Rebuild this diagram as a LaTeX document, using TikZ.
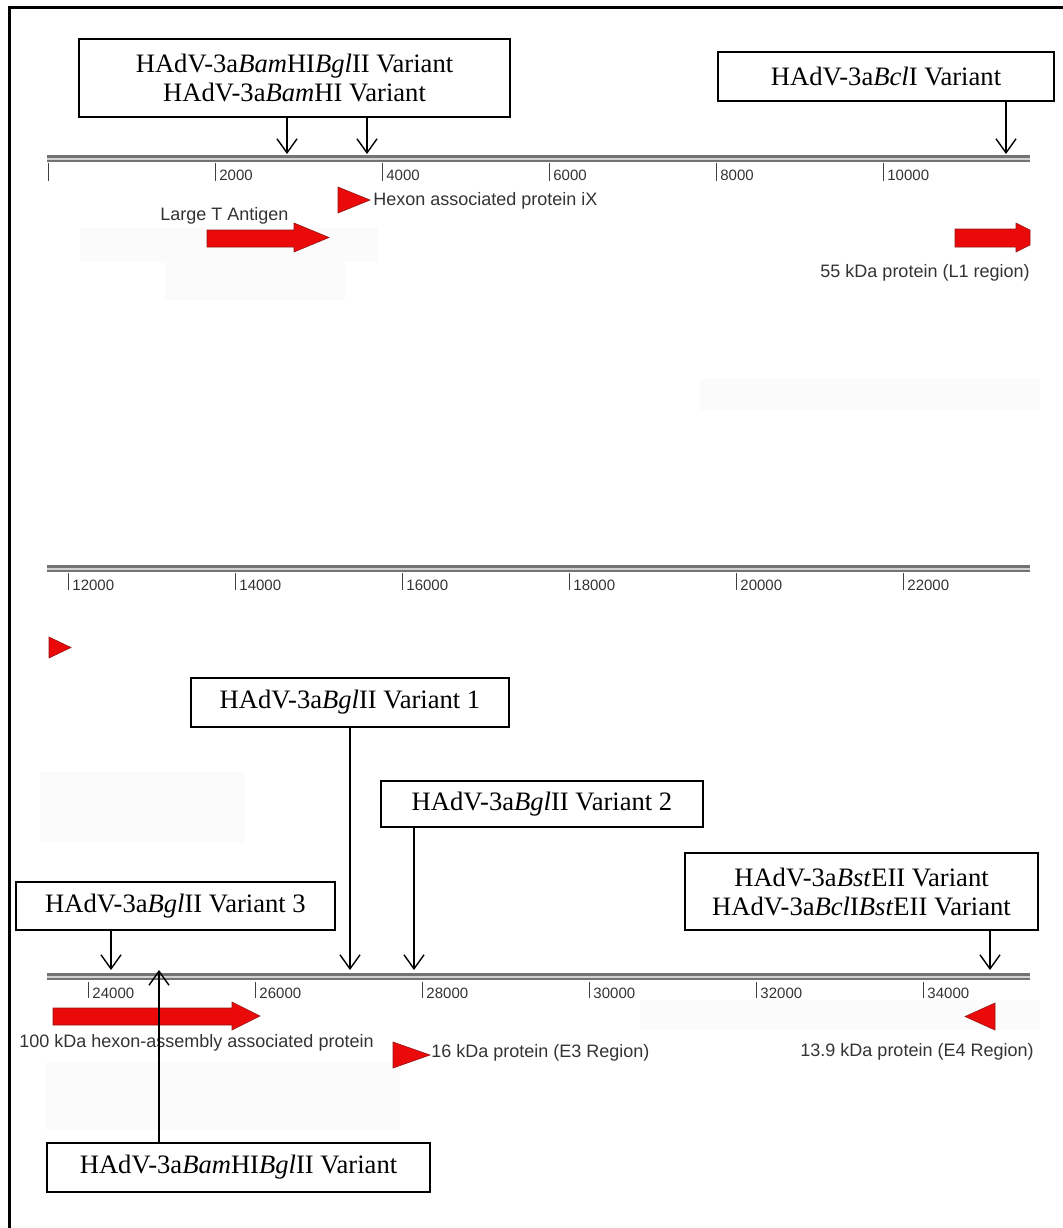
\documentclass[tikz,border=0pt]{standalone}
\usepackage{fontspec}
\setmainfont{Liberation Serif}
\newfontfamily\labelfont{Liberation Sans}
\usetikzlibrary{arrows.meta}
\definecolor{genered}{RGB}{234,10,10}
\definecolor{darkred}{RGB}{150,20,20}
\tikzset{
  variant/.style={draw, line width=0.9pt, fill=white, align=center, inner sep=0,
    font=\fontsize{13.3}{14.5}\selectfont},
  cut/.style={-{Straight Barb[length=7pt,width=10pt]}, line width=0.7pt},
  ruler/.style={line width=3.5pt, color=black!55},
  rulerhi/.style={line width=0.8pt, color=black!18},
  tick/.style={line width=0.5pt, color=black!75},
  ticklabel/.style={anchor=west, inner sep=0, font=\labelfont\fontsize{7.5}{8}\selectfont, color=black!80},
  genelabel/.style={inner sep=0, font=\labelfont\fontsize{9}{10}\selectfont, color=black!80},
  gene/.style={fill=genered, draw=darkred, line width=0.3pt},
  patch/.style={fill=black!1.5}
}
\begin{document}
\begin{tikzpicture}[x=0.5pt, y=-0.5pt]
\useasboundingbox (0,0) rectangle (1063,1228);

% faint patches of the scan
\fill[patch] (80,228) rectangle (378,262);
\fill[patch] (165,262) rectangle (345,300);
\fill[patch] (700,378) rectangle (1040,410);
\fill[patch] (40,772) rectangle (245,843);
\fill[patch] (45,1062) rectangle (400,1130);
\fill[patch] (640,1000) rectangle (1040,1030);

% frame
\draw[line width=1.5pt] (1063,7) -- (9,7) -- (9,1228);


% ruler 1 : 0 - 11760
\draw[ruler] (47,158) -- (1030,158);
\draw[rulerhi] (47,158.8) -- (1030,158.8);
\draw[tick] (48,163) -- (48,181);
\foreach \kb in {2,4,...,10}{
  \pgfmathsetmacro\tx{48+\kb*83.5}
  \draw[tick] (\tx,163) -- (\tx,181);
  \node[ticklabel] (lab\kb) at (\tx+4,175) {\kb000};
}

\node[variant, minimum width=215.5pt, minimum height=39pt] (bamBgl) at (294.5,78)
  {HAdV-3a\textit{Bam}HI\textit{Bgl}II Variant\\HAdV-3a\textit{Bam}HI Variant};
\node[variant, minimum width=168pt, minimum height=24.5pt] (bcl) at (886,76.5)
  {HAdV-3a\textit{Bcl}I Variant};

\coordinate (siteA) at (287,154);
\coordinate (siteB) at (367,154);
\coordinate (siteC) at (1006,154);
\draw[cut] (bamBgl.south -| siteA) -- (siteA);
\draw[cut] (bamBgl.south -| siteB) -- (siteB);
\draw[cut] (bcl.south -| siteC) -- (siteC);

% genes
\draw[gene] (338,187) -- (370,200) -- (338,213) -- cycle;
\node[genelabel, anchor=west] (hexon) at (373,201) {Hexon associated protein iX};
\node[genelabel, anchor=west] (largeT) at (160,216) {Large T Antigen};
\draw[gene] (207,230) -- (294,230) -- (294,223) -- (329,237.5) -- (294,252)
  -- (294,247) -- (207,247) -- cycle;
\draw[gene] (955,229) -- (1016,229) -- (1016,223) -- (1030,230) -- (1030,245)
  -- (1016,252) -- (1016,247) -- (955,247) -- cycle;
\node[genelabel, anchor=east] (l1) at (1030,273) {55 kDa protein (L1 region)};


% ruler 2 : 11760 - 23520
\draw[ruler] (47,568) -- (1030,568);
\draw[rulerhi] (47,568.8) -- (1030,568.8);
\foreach \kb in {12,14,...,22}{
  \pgfmathsetmacro\tx{48+(\kb-11.76)*83.5}
  \draw[tick] (\tx,573) -- (\tx,590);
  \node[ticklabel] (lab\kb) at (\tx+4,585) {\kb000};
}
\draw[gene] (49,637) -- (71,647.5) -- (49,658) -- cycle;


% ruler 3 : 23520 - 35280
\draw[ruler] (47,976) -- (1030,976);
\draw[rulerhi] (47,976.8) -- (1030,976.8);
\foreach \kb in {24,26,...,34}{
  \pgfmathsetmacro\tx{48+(\kb-23.52)*83.5}
  \draw[tick] (\tx,982) -- (\tx,998);
  \node[ticklabel] (lab\kb) at (\tx+4,993) {\kb000};
}

\node[variant, minimum width=159pt, minimum height=24.5pt] (bgl1) at (350,702.5)
  {HAdV-3a\textit{Bgl}II Variant 1};
\node[variant, minimum width=161pt, minimum height=23pt] (bgl2) at (542,804)
  {HAdV-3a\textit{Bgl}II Variant 2};
\node[variant, minimum width=159.5pt, minimum height=24pt] (bgl3) at (175.5,906)
  {HAdV-3a\textit{Bgl}II Variant 3};
\node[variant, minimum width=176.5pt, minimum height=38.5pt] (bst) at (861.5,891.5)
  {HAdV-3a\textit{Bst}EII Variant\\HAdV-3a\textit{Bcl}I\textit{Bst}EII Variant};
\node[variant, minimum width=191.5pt, minimum height=24.5pt] (bamBgl2) at (238.5,1167.5)
  {HAdV-3a\textit{Bam}HI\textit{Bgl}II Variant};

\coordinate (siteD) at (111,970);
\coordinate (siteE) at (350,970);
\coordinate (siteF) at (414,970);
\coordinate (siteG) at (990,970);
\coordinate (siteH) at (159,970);
\draw[cut] (bgl3.south -| siteD) -- (siteD);
\draw[cut] (bgl1.south -| siteE) -- (siteE);
\draw[cut] (bgl2.south -| siteF) -- (siteF);
\draw[cut] (bst.south -| siteG) -- (siteG);

% genes
\draw[gene] (53,1008) -- (232,1008) -- (232,1002) -- (260,1016) -- (232,1030)
  -- (232,1025) -- (53,1025) -- cycle;
\node[genelabel, anchor=west] (hexAss) at (19,1043) {100 kDa hexon-assembly associated protein};
\draw[gene] (393,1042) -- (430,1055) -- (393,1068) -- cycle;
\node[genelabel, anchor=west] (e3) at (431,1053) {16 kDa protein (E3 Region)};
\draw[gene] (995,1003) -- (965,1016.5) -- (995,1030) -- cycle;
\node[genelabel, anchor=east] (e4) at (1034,1052) {13.9 kDa protein (E4 Region)};

\draw[cut] (bamBgl2.north -| siteH) -- (siteH);

\end{tikzpicture}
\end{document}
